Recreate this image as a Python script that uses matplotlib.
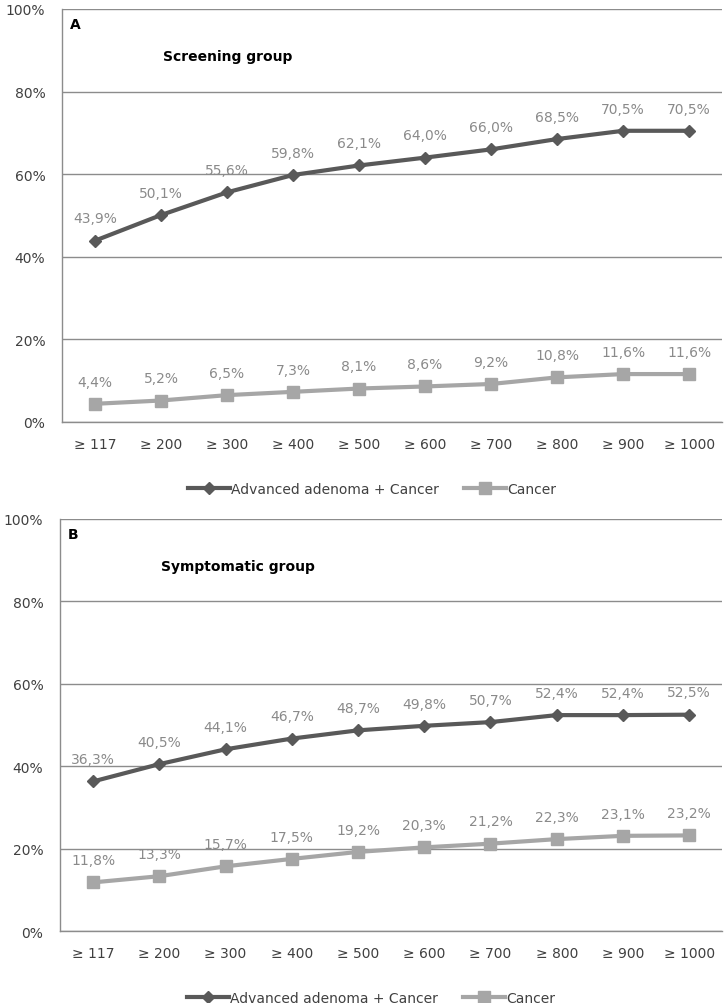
import matplotlib
matplotlib.use('Agg')
import matplotlib.pyplot as plt
from matplotlib.ticker import PercentFormatter

plt.rcParams['font.family'] = ['DejaVu Sans']

categories = ['≥ 117', '≥ 200', '≥ 300', '≥ 400', '≥ 500', '≥ 600', '≥ 700', '≥ 800', '≥ 900', '≥ 1000']

# panel A - screening group
screen_adv = [43.9, 50.1, 55.6, 59.8, 62.1, 64.0, 66.0, 68.5, 70.5, 70.5]
screen_cancer = [4.4, 5.2, 6.5, 7.3, 8.1, 8.6, 9.2, 10.8, 11.6, 11.6]

# panel B - symptomatic group
sympt_adv = [36.3, 40.5, 44.1, 46.7, 48.7, 49.8, 50.7, 52.4, 52.4, 52.5]
sympt_cancer = [11.8, 13.3, 15.7, 17.5, 19.2, 20.3, 21.2, 22.3, 23.1, 23.2]

dark = '#595959'
light = '#a6a6a6'
label_col = '#8a8a8a'
grid_col = '#8c8c8c'


def fmt(v):
    return ('%.1f%%' % v).replace('.', ',')


def draw_panel(ax, adv, cancer, letter, title):
    x = range(len(categories))
    ax.plot(x, adv, color=dark, lw=3, marker='D', ms=6.5, label='Advanced adenoma + Cancer', zorder=3)
    ax.plot(x, cancer, color=light, lw=3, marker='s', ms=8, label='Cancer', zorder=3)
    for xi, v in zip(x, adv):
        ax.annotate(fmt(v), (xi, v), xytext=(0, 11), textcoords='offset points',
                    ha='center', va='bottom', color=label_col, fontsize=10)
    for xi, v in zip(x, cancer):
        ax.annotate(fmt(v), (xi, v), xytext=(0, 11), textcoords='offset points',
                    ha='center', va='bottom', color=label_col, fontsize=10)
    ax.set_xlim(-0.5, len(categories) - 0.5)
    ax.set_ylim(0, 100)
    ax.set_yticks(range(0, 101, 20))
    ax.yaxis.set_major_formatter(PercentFormatter(decimals=0))
    ax.set_xticks(list(x))
    ax.set_xticklabels(categories)
    ax.grid(axis='y', color=grid_col, lw=1)
    ax.set_axisbelow(True)
    ax.tick_params(length=0, labelsize=10, colors='#404040', pad=11)
    ax.tick_params(axis='y', pad=12)
    for s in ['top', 'right']:
        ax.spines[s].set_visible(False)
    for s in ['left', 'bottom']:
        ax.spines[s].set_color(grid_col)
        ax.spines[s].set_linewidth(1)
    ax.text(0.012, 0.963, letter, transform=ax.transAxes, fontsize=10,
            fontweight='bold', va='center', ha='left')
    ax.text(0.153, 0.886, title, transform=ax.transAxes, fontsize=10,
            fontweight='bold', va='center', ha='left')
    ax.legend(loc='upper center', bbox_to_anchor=(0.47, -0.115), ncol=2, frameon=False,
              fontsize=10, handlelength=3.0, handletextpad=0.1, columnspacing=1.8,
              labelcolor='#404040')


fig = plt.figure(figsize=(7.27, 10.04), dpi=100)
ax1 = fig.add_axes([0.0853, 0.5787, 0.908, 0.4114])
ax2 = fig.add_axes([0.0825, 0.0717, 0.911, 0.4104])

draw_panel(ax1, screen_adv, screen_cancer, 'A', 'Screening group')
draw_panel(ax2, sympt_adv, sympt_cancer, 'B', 'Symptomatic group')

fig.savefig('out.png', dpi=100)
